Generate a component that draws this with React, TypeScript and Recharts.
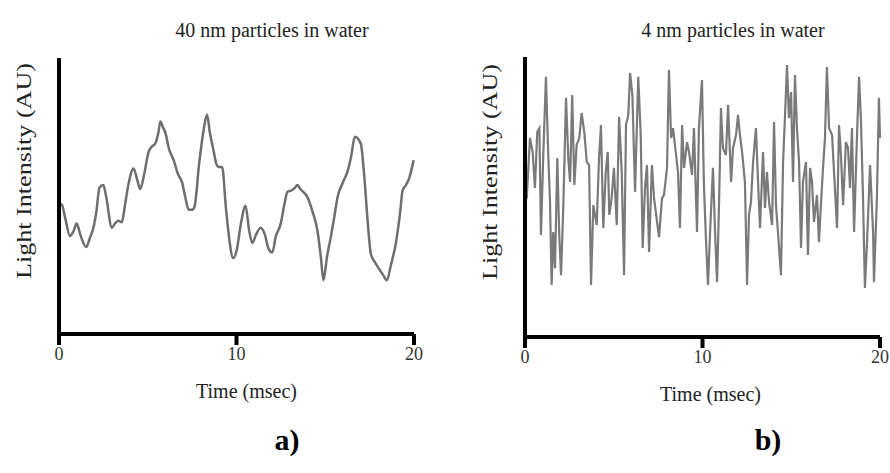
import { Label, Line, LineChart, XAxis, YAxis } from "recharts";

const serif = '"Liberation Serif", "Times New Roman", serif';

// panel a: 40 nm particles (time in msec, intensity in arbitrary units 0-100)
const timeA = [
  0, 0.15, 0.35, 0.62, 0.8, 1.0, 1.2, 1.53, 1.75, 1.94, 2.1, 2.28, 2.5, 2.65,
  2.98, 3.15, 3.35, 3.54, 3.7, 3.92, 4.2, 4.4, 4.58, 4.8, 5.05, 5.25, 5.42,
  5.6, 5.71, 5.85, 5.99, 6.2, 6.46, 6.7, 6.93, 7.1, 7.31, 7.5, 7.63, 7.9,
  8.15, 8.34, 8.5, 8.72, 8.85, 9.0, 9.19, 9.4, 9.6, 9.81, 10.0, 10.25, 10.51,
  10.7, 10.89, 11.1, 11.36, 11.6, 11.8, 12.02, 12.2, 12.49, 12.7, 12.87, 13.1,
  13.3, 13.43, 13.6, 14.0, 14.3, 14.56, 14.75, 14.9, 15.1, 15.31, 15.5, 15.69,
  16.0, 16.26, 16.45, 16.67, 17.0, 17.2, 17.4, 17.57, 17.8, 18.04, 18.25,
  18.47, 18.7, 18.98, 19.2, 19.36, 19.55, 19.73, 19.98,
];
const intensityA = [
  46, 47, 42, 35.5, 37, 40, 36, 31.5, 35, 38.5, 44, 53, 54, 50, 38.5, 40, 41,
  40.5, 46, 54.5, 60, 56, 52.5, 58, 66, 68, 69, 73, 77, 75, 73, 67, 63, 58, 55,
  50, 45, 45, 46, 62, 74, 79.5, 73, 66, 62, 60.5, 60.5, 46, 34, 27.5, 30, 40,
  46.5, 38, 33, 36, 38.5, 36, 31, 29.5, 35, 40, 47, 51.5, 52, 53, 54, 52.5,
  49.5, 44, 37.5, 28, 19.5, 28, 35, 42, 49.5, 55, 59, 64, 71.5, 69, 57, 40, 29,
  26, 23.5, 21.5, 19.5, 25, 33, 43, 52, 54, 56.5, 63,
];

// panel b: 4 nm particles
const timeB = [
  0, 0.1, 0.28, 0.43, 0.56, 0.69, 0.81, 0.9, 1.03, 1.18, 1.31, 1.41, 1.5, 1.59,
  1.69, 1.82, 1.93, 2.03, 2.16, 2.31, 2.44, 2.54, 2.66, 2.78, 2.91, 3.06, 3.19,
  3.34, 3.48, 3.61, 3.72, 3.85, 4.04, 4.17, 4.28, 4.41, 4.55, 4.66, 4.75, 4.88,
  5.01, 5.17, 5.3, 5.45, 5.58, 5.69, 5.82, 5.92, 6.05, 6.2, 6.38, 6.52, 6.63,
  6.76, 6.87, 6.99, 7.15, 7.27, 7.44, 7.55, 7.72, 7.83, 8.0, 8.11, 8.23, 8.34,
  8.51, 8.62, 8.73, 8.85, 8.96, 9.13, 9.24, 9.41, 9.52, 9.69, 9.8, 9.97, 10.08,
  10.2, 10.31, 10.42, 10.59, 10.7, 10.82, 10.93, 11.04, 11.15, 11.32, 11.44,
  11.61, 11.72, 11.89, 12.0, 12.11, 12.23, 12.39, 12.51, 12.62, 12.73, 12.85,
  13.01, 13.13, 13.24, 13.41, 13.52, 13.63, 13.75, 13.92, 14.03, 14.14, 14.25,
  14.42, 14.54, 14.65, 14.76, 14.87, 14.99, 15.1, 15.21, 15.32, 15.44, 15.55,
  15.66, 15.83, 15.94, 16.06, 16.17, 16.28, 16.45, 16.56, 16.68, 16.79, 16.9,
  17.01, 17.13, 17.3, 17.41, 17.58, 17.69, 17.8, 17.92, 18.08, 18.2, 18.31,
  18.42, 18.54, 18.7, 18.82, 18.93, 19.04, 19.15, 19.27, 19.44, 19.61, 19.66,
  19.83, 19.94, 20.0,
];
const intensityB = [
  49, 49.6, 71.1, 66.1, 53.2, 73.2, 74.6, 36.4, 65, 92.9, 65, 48.2, 18.6, 37.5,
  24.6, 63.9, 36.4, 22.1, 47.1, 85.4, 63.9, 55.4, 86.4, 54.3, 68.6, 71.1, 80,
  73.2, 62.5, 61.4, 18.6, 47.1, 40, 63.9, 75.7, 38.9, 58.9, 66.1, 43.6, 49.6,
  60.4, 40, 78.6, 58.9, 22.1, 75.7, 79.3, 94.3, 86.4, 51.8, 92.9, 72.1, 31.8,
  53.2, 61.4, 30.4, 61.4, 49.6, 41.1, 35.7, 49.6, 50.7, 60.4, 95.4, 71.1, 74.6,
  65, 58.9, 38.9, 75.7, 60.4, 69.6, 66.1, 57.9, 74.6, 37.5, 74.6, 91.8, 54.3,
  33.9, 18.6, 36.4, 60.4, 38.9, 19.6, 47.1, 81.8, 67.5, 65, 82.9, 55.4, 67.5,
  72.1, 79.3, 72.1, 66.1, 55.4, 18.6, 43.6, 48.2, 62.5, 74.6, 55.4, 38.9, 66.1,
  46.1, 58.9, 48.2, 40, 76.8, 47.1, 37.5, 22.1, 62.5, 79.3, 97.1, 78.2, 87.5,
  55.4, 93.6, 74.6, 62.5, 31.8, 55.4, 62.5, 29.3, 60.4, 55.4, 41.1, 50.7, 33.9,
  48.2, 60.4, 71.1, 96.4, 74.6, 72.1, 58.9, 38.9, 75.7, 65, 47.1, 69.6, 67.5,
  53.2, 74.6, 37.5, 71.1, 92.9, 76.8, 50.7, 17.5, 33.9, 61.4, 37.5, 19.6, 50.7,
  85.4, 71.1,
];

const timeTicks = [0, 10, 20];

function rowsOf(time: number[], intensity: number[]) {
  return time.map((t, i) => ({ t, v: intensity[i] }));
}

type PanelProps = {
  left: number;
  time: number[];
  intensity: number[];
  title: string;
  titleX: number;
  letter: string;
  letterX: number;
  margin: { top: number; right: number; bottom: number; left: number };
  stroke: string;
  strokeWidth: number;
  curve: "monotone" | "linear";
  xLabelDx: number;
};

function Panel(p: PanelProps) {
  const rows = rowsOf(p.time, p.intensity);
  return (
    <>
      <div
        style={{
          position: "absolute",
          left: p.titleX - 150,
          top: 18,
          width: 300,
          textAlign: "center",
          fontSize: 20,
          lineHeight: "24px",
          color: "#222",
        }}
      >
        {p.title}
      </div>
      <div style={{ position: "absolute", left: p.left, top: 0 }}>
        <LineChart width={445} height={473} data={rows} margin={p.margin}>
          <XAxis
            type="number"
            dataKey="t"
            domain={[0, 20]}
            ticks={timeTicks}
            interval={0}
            height={40}
            axisLine={{ stroke: "#000", strokeWidth: 4 }}
            tickLine={{ stroke: "#000", strokeWidth: 4 }}
            tickSize={11}
            tick={{ fill: "#333", fontSize: 18, fontFamily: serif }}
          >
            <Label
              content={(props: any) => {
                const vb = props.viewBox;
                return (
                  <text
                    x={vb.x + vb.width / 2 + p.xLabelDx}
                    y={vb.y + 64}
                    textAnchor="middle"
                    fontSize={20}
                    fontFamily={serif}
                    fill="#222"
                  >
                    Time (msec)
                  </text>
                );
              }}
            />
          </XAxis>
          <YAxis
            type="number"
            domain={[0, 100]}
            width={40}
            tick={false}
            tickLine={false}
            axisLine={{ stroke: "#000", strokeWidth: 4 }}
          >
            <Label
              content={(props: any) => {
                const vb = props.viewBox;
                const cx = vb.x + vb.width - 35;
                const cy = vb.y + vb.height / 2 - 25;
                return (
                  <text
                    x={cx}
                    y={cy}
                    transform={`rotate(-90, ${cx}, ${cy})`}
                    textAnchor="middle"
                    dominantBaseline="central"
                    fontSize={20}
                    fontFamily={serif}
                    fill="#222"
                    textLength={216}
                    lengthAdjust="spacingAndGlyphs"
                  >
                    Light Intensity (AU)
                  </text>
                );
              }}
            />
          </YAxis>
          <Line
            type={p.curve}
            dataKey="v"
            stroke={p.stroke}
            strokeWidth={p.strokeWidth}
            dot={false}
            isAnimationActive={false}
          />
        </LineChart>
      </div>
      <div
        style={{
          position: "absolute",
          left: p.letterX - 40,
          top: 422,
          width: 80,
          textAlign: "center",
          fontSize: 30,
          lineHeight: "36px",
          fontWeight: "bold",
          color: "#000",
        }}
      >
        {p.letter}
      </div>
    </>
  );
}

export default function App() {
  return (
    <div
      style={{
        position: "absolute",
        left: 0,
        top: 0,
        width: 890,
        height: 473,
        overflow: "hidden",
        background: "#fff",
        fontFamily: serif,
      }}
    >
      <Panel
        left={0}
        time={timeA}
        intensity={intensityA}
        title="40 nm particles in water"
        titleX={272}
        letter="a)"
        letterX={287}
        margin={{ top: 58, right: 31, bottom: 99, left: 19 }}
        stroke="#6e6e6e"
        strokeWidth={2.5}
        curve="monotone"
        xLabelDx={10}
      />
      <Panel
        left={445}
        time={timeB}
        intensity={intensityB}
        title="4 nm particles in water"
        titleX={733}
        letter="b)"
        letterX={768}
        margin={{ top: 57, right: 10, bottom: 96, left: 40 }}
        stroke="#7a7a7a"
        strokeWidth={2.2}
        curve="linear"
        xLabelDx={8}
      />
    </div>
  );
}
